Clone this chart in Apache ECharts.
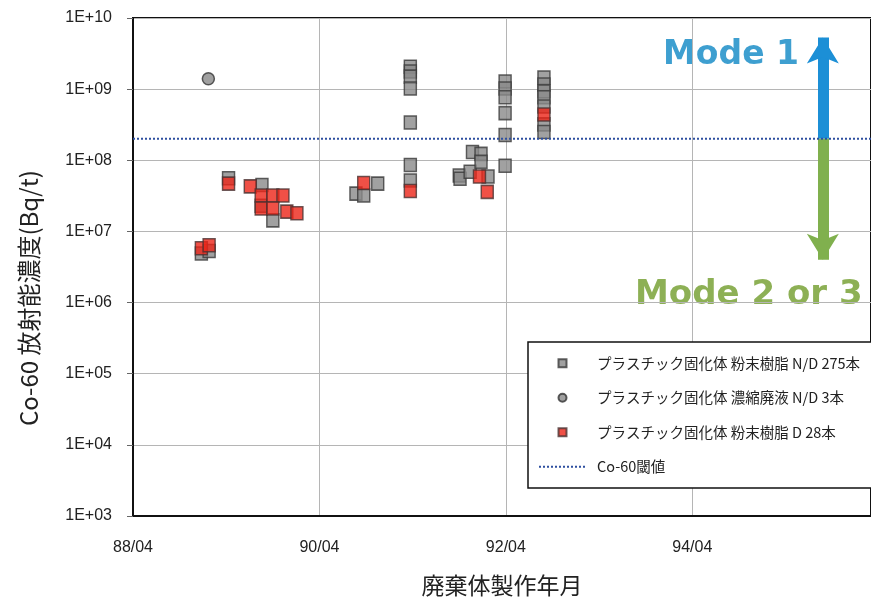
<!DOCTYPE html>
<html>
<head>
<meta charset="utf-8">
<script src="https://cdn.jsdelivr.net/npm/echarts@6/dist/echarts.min.js"></script>
<style>
  html, body { margin: 0; padding: 0; background: #fff; }
  #chart { width: 871px; height: 602px; }
</style>
</head>
<body>
<div id="chart"></div>
<script>
// x = months since 1988/04
var xTicks = ['88/04', '90/04', '92/04', '94/04'];

var powderNDMonth = [8.8, 9.8, 12.3, 16.6, 16.5, 18.0, 28.7, 29.7, 31.5,
    35.7, 35.7, 35.7, 35.7, 35.7, 35.7, 35.7,
    42.0, 42.1, 43.4, 43.7, 44.8, 44.8, 45.7,
    47.9, 47.9, 47.9, 47.9, 47.9, 47.9,
    52.9, 52.9, 52.9, 52.9, 52.9, 52.9, 52.9];
var powderNDValue = [4.9e6, 5.3e6, 5.6e7, 4.5e7, 2.3e7, 1.43e7, 3.4e7, 3.2e7, 4.7e7,
    2.07e9, 1.77e9, 1.5e9, 1.02e9, 3.4e8, 8.6e7, 5.2e7,
    6.1e7, 5.5e7, 6.9e7, 1.31e8, 1.23e8, 9.5e7, 5.9e7,
    1.28e9, 1.02e9, 7.7e8, 4.6e8, 2.26e8, 8.4e7,
    1.46e9, 1.16e9, 9.3e8, 7.7e8, 5.7e8, 3.2e8, 2.5e8];

var concentrateMonth = [9.7];
var concentrateValue = [1.4e9];

var powderDMonth = [8.8, 9.8, 12.3, 15.1, 16.5, 18.0, 19.3, 16.5, 18.0, 19.8, 21.1,
    29.7, 35.7, 44.6, 45.6, 52.9];
var powderDValue = [5.8e6, 6.4e6, 4.7e7, 4.3e7, 3.2e7, 3.2e7, 3.2e7, 2.1e7, 2.1e7, 1.9e7, 1.8e7,
    4.8e7, 3.7e7, 5.9e7, 3.6e7, 4.4e8];

var threshold = 2e8;
var xMax = 95.0;
var arrowMonth = 88.8;
var arrowTop = 5.3e9;
var arrowBottom = 4.0e6;

function zip(xs, ys) {
    return xs.map(function (x, i) { return [x, ys[i]]; });
}

var names = [
    'プラスチック固化体 粉末樹脂 N/D 275本',
    'プラスチック固化体 濃縮廃液 N/D 3本',
    'プラスチック固化体 粉末樹脂 D 28本',
    'Co-60閾値'
];

var labelFont = "'Liberation Sans', sans-serif";
var cjkFont = "'Noto Sans CJK JP', sans-serif";
// square legend icon (a path keeps its aspect, plain 'rect' stretches)
var squareIcon = 'path://M0,0H10V10H0Z';

var myChart = echarts.init(document.getElementById('chart'));

var option = {
    backgroundColor: '#fff',
    animation: false,
    grid: {
        left: 133,
        right: -6,
        top: 18,
        bottom: 82,
        show: true,
        borderColor: '#111',
        borderWidth: 2
    },
    legend: {
        orient: 'vertical',
        left: 528,
        top: 342,
        width: 360,
        padding: [14, 40, 14, 10],
        itemWidth: 47,
        itemHeight: 8,
        itemGap: 20,
        symbolKeepAspect: true,
        backgroundColor: '#fff',
        borderColor: '#111',
        borderWidth: 1.5,
        textStyle: {
            fontFamily: cjkFont,
            fontSize: 14.5,
            color: '#222',
            lineHeight: 14,
            padding: [0, 0, 0, 6]
        },
        data: [
            { name: names[0], icon: squareIcon },
            { name: names[1], icon: 'circle' },
            { name: names[2], icon: squareIcon },
            { name: names[3], itemStyle: { color: 'rgba(0,0,0,0)', borderWidth: 0 } }
        ]
    },
    xAxis: {
        type: 'value',
        min: 0,
        max: xMax,
        interval: 24,
        name: '廃棄体製作年月',
        nameLocation: 'middle',
        nameGap: 58,
        nameTextStyle: { fontFamily: cjkFont, fontSize: 23, color: '#222' },
        axisLine: { show: true, onZero: false, lineStyle: { color: '#111', width: 2 } },
        axisTick: { show: false },
        axisLabel: {
            margin: 24,
            fontFamily: labelFont,
            fontSize: 16,
            color: '#222',
            showMaxLabel: false,
            formatter: function (v) {
                return xTicks[Math.round(v / 24)] || '';
            }
        },
        splitLine: { show: true, lineStyle: { color: '#b5b5b5', width: 1 } }
    },
    yAxis: {
        type: 'log',
        logBase: 10,
        min: 1e3,
        max: 1e10,
        name: 'Co-60 放射能濃度(Bq/t)',
        nameLocation: 'middle',
        nameGap: 92,
        nameTextStyle: { fontFamily: cjkFont, fontSize: 24, color: '#222', padding: [0, 62, 0, 0] },
        axisLine: { show: true, lineStyle: { color: '#111', width: 2 } },
        axisTick: { show: true, length: 6, lineStyle: { color: '#666' } },
        axisLabel: {
            margin: 21,
            fontFamily: labelFont,
            fontSize: 16,
            color: '#222',
            formatter: function (v) {
                var e = Math.round(Math.log(v) / Math.LN10);
                return '1E+' + (e < 10 ? '0' + e : e);
            }
        },
        splitLine: { show: true, lineStyle: { color: '#b5b5b5', width: 1 } },
        minorTick: { show: false }
    },
    series: [
        {
            name: names[0],
            type: 'scatter',
            symbol: 'rect',
            symbolSize: [12, 13],
            itemStyle: { color: '#8a8a8a', borderColor: '#3a3a3a', borderWidth: 1.5 },
            data: zip(powderNDMonth, powderNDValue),
            z: 3
        },
        {
            name: names[1],
            type: 'scatter',
            symbol: 'circle',
            symbolSize: 12,
            itemStyle: { color: '#888', borderColor: '#333', borderWidth: 1.5 },
            data: zip(concentrateMonth, concentrateValue),
            z: 3
        },
        {
            name: names[2],
            type: 'scatter',
            symbol: 'rect',
            symbolSize: [12, 13],
            itemStyle: { color: '#ec2418', borderColor: '#4a3232', borderWidth: 1.5 },
            data: zip(powderDMonth, powderDValue),
            z: 4
        },
        {
            name: names[3],
            type: 'line',
            symbol: 'none',
            lineStyle: { color: '#2e4fa0', width: 2, type: 'dotted' },
            itemStyle: { color: '#2e4fa0' },
            data: [[0, threshold], [xMax, threshold]],
            z: 5,
            markLine: {
                silent: true,
                symbol: ['none', 'arrow'],
                symbolSize: [24, 26],
                label: { show: false },
                data: [
                    [
                        { coord: [arrowMonth, threshold], lineStyle: { color: '#1c8fd6', width: 11, type: 'solid' } },
                        { coord: [arrowMonth, arrowTop], itemStyle: { color: '#1c8fd6' } }
                    ],
                    [
                        { coord: [arrowMonth, threshold], lineStyle: { color: '#80b04e', width: 11, type: 'solid' } },
                        { coord: [arrowMonth, arrowBottom], itemStyle: { color: '#80b04e' } }
                    ]
                ]
            }
        }
    ],
    graphic: [
        {
            type: 'text',
            left: 663,
            top: 39,
            style: {
                text: 'Mode 1',
                font: "bold 33px 'DejaVu Sans', sans-serif",
                fill: '#3e9fd0'
            }
        },
        {
            type: 'text',
            left: 635,
            top: 278,
            style: {
                text: 'Mode 2 or 3',
                font: "bold 34px 'DejaVu Sans', sans-serif",
                fill: '#8db055'
            }
        }
    ]
};

myChart.setOption(option);
</script>
</body>
</html>
